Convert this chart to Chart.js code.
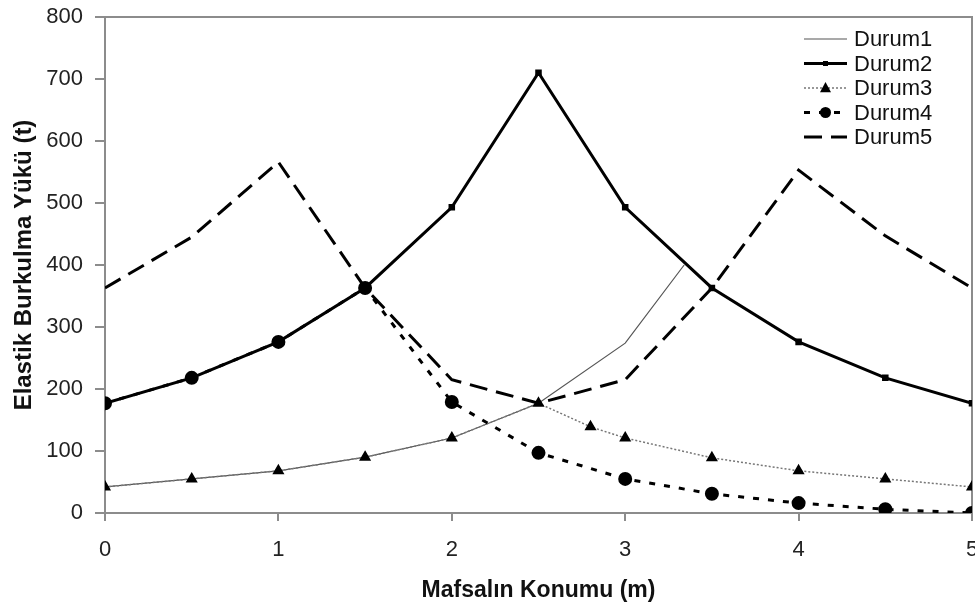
<!DOCTYPE html>
<html>
<head>
<meta charset="utf-8">
<script src="https://cdn.jsdelivr.net/npm/chart.js@4/dist/chart.umd.min.js"></script>
<style>
  html, body { margin: 0; padding: 0; background: #fff; }
</style>
</head>
<body>
<canvas id="grafico" width="975" height="607"></canvas>
<script>
// degerler
var xDurum1 = [0, 0.5, 1, 1.5, 2, 2.5, 3, 3.34];
var yDurum1 = [42, 55, 68, 90, 121, 177, 274, 400];

var xDurum2 = [0, 0.5, 1, 1.5, 2, 2.5, 3, 3.5, 4, 4.5, 5];
var yDurum2 = [177, 218, 276, 363, 493, 710, 493, 363, 276, 218, 177];

var xDurum3 = [0, 0.5, 1, 1.5, 2, 2.5, 2.8, 3, 3.5, 4, 4.5, 5];
var yDurum3 = [42, 55, 68, 90, 121, 177, 139, 121, 89, 68, 55, 42];

var xDurum4 = [0, 0.5, 1, 1.5, 2, 2.5, 3, 3.5, 4, 4.5, 5];
var yDurum4 = [177, 218, 276, 363, 179, 97, 55, 31, 16, 6, 0];

var xDurum5 = [0, 0.5, 1, 1.5, 2, 2.5, 3, 3.5, 4, 4.5, 5];
var yDurum5 = [363, 445, 566, 363, 215, 177, 215, 363, 553, 447, 363];

var xTicks = [0, 1, 2, 3, 4, 5];
var yTicks = [0, 100, 200, 300, 400, 500, 600, 700, 800];

var fonte = "'Liberation Sans', Arial, sans-serif";

function pares(xs, ys) {
  return xs.map(function (x, i) { return { x: x, y: ys[i] }; });
}

function marcador(ctx, estilo, r, x, y) {
  ctx.beginPath();
  if (estilo === "circle") {
    ctx.arc(x, y, r, 0, Math.PI * 2);
  } else if (estilo === "triangle") {
    ctx.moveTo(x, y - r * 1.1);
    ctx.lineTo(x + r, y + r * 0.75);
    ctx.lineTo(x - r, y + r * 0.75);
    ctx.closePath();
  } else {
    ctx.rect(x - r, y - r, r * 2, r * 2);
  }
  ctx.fillStyle = "#000";
  ctx.fill();
}

// cerceve + legenda
var cerceve = {
  id: "cerceve",
  beforeDatasetsDraw: function (chart) {
    var a = chart.chartArea, ctx = chart.ctx;
    ctx.save();
    ctx.strokeStyle = "#8c8c8c";
    ctx.lineWidth = 2;
    ctx.strokeRect(a.left, a.top, a.right - a.left, a.bottom - a.top);
    ctx.restore();
  },
  afterDraw: function (chart) {
    var a = chart.chartArea, ctx = chart.ctx;
    ctx.save();
    chart.data.datasets.forEach(function (ds, i) {
      var y = a.top + 22 + i * 24.5;
      var x0 = a.right - 168, x1 = a.right - 125;
      ctx.beginPath();
      ctx.setLineDash(ds.borderDash || []);
      ctx.lineWidth = ds.borderWidth;
      ctx.strokeStyle = ds.borderColor;
      ctx.moveTo(x0, y);
      ctx.lineTo(x1, y);
      ctx.stroke();
      ctx.setLineDash([]);
      if (ds.pointRadius > 0) marcador(ctx, ds.pointStyle, ds.pointRadius, (x0 + x1) / 2, y);
      ctx.fillStyle = "#111";
      ctx.font = "22px " + fonte;
      ctx.textBaseline = "middle";
      ctx.textAlign = "left";
      ctx.fillText(ds.label, a.right - 118, y + 1);
    });
    ctx.restore();
  }
};

new Chart(document.getElementById("grafico").getContext("2d"), {
  type: "line",
  data: {
    datasets: [
      {
        label: "Durum1",
        data: pares(xDurum1, yDurum1),
        borderColor: "#555",
        borderWidth: 1.2,
        pointRadius: 0,
        order: 5
      },
      {
        label: "Durum2",
        data: pares(xDurum2, yDurum2),
        borderColor: "#000",
        borderWidth: 3,
        pointStyle: "rect",
        pointRadius: 2.5,
        pointBackgroundColor: "#000",
        pointBorderColor: "#000",
        order: 1
      },
      {
        label: "Durum3",
        data: pares(xDurum3, yDurum3),
        borderColor: "#777",
        borderWidth: 1.5,
        borderDash: [2, 2],
        pointStyle: "triangle",
        pointRadius: 5.5,
        pointBackgroundColor: "#000",
        pointBorderColor: "#000",
        order: 4
      },
      {
        label: "Durum4",
        data: pares(xDurum4, yDurum4),
        borderColor: "#000",
        borderWidth: 3,
        borderDash: [6, 9],
        pointStyle: "circle",
        pointRadius: 5.5,
        pointBackgroundColor: "#000",
        pointBorderColor: "#000",
        order: 2
      },
      {
        label: "Durum5",
        data: pares(xDurum5, yDurum5),
        borderColor: "#000",
        borderWidth: 3,
        borderDash: [18, 9],
        pointRadius: 0,
        order: 3
      }
    ]
  },
  plugins: [cerceve],
  options: {
    responsive: false,
    animation: false,
    devicePixelRatio: 1,
    layout: { autoPadding: false, padding: { top: 17, right: 3, left: 0, bottom: 0 } },
    elements: { line: { tension: 0 }, point: { hoverRadius: 0 } },
    plugins: {
      legend: { display: false },
      tooltip: { enabled: false }
    },
    scales: {
      x: {
        type: "linear",
        min: 0,
        max: 5,
        afterBuildTicks: function (s) { s.ticks = xTicks.map(function (v) { return { value: v }; }); },
        afterFit: function (s) { s.height = 94; s.paddingLeft = 0; s.paddingRight = 0; },
        grid: { drawOnChartArea: false, drawTicks: true, tickLength: 8, color: "#8c8c8c", lineWidth: 2 },
        border: { color: "#8c8c8c", width: 2 },
        ticks: { color: "#222", font: { family: fonte, size: 22 }, padding: 16, maxRotation: 0 },
        title: {
          display: true,
          text: "Mafsalın Konumu (m)",
          color: "#111",
          font: { family: fonte, size: 23, weight: "bold", lineHeight: 1.2 },
          padding: { top: 0, bottom: 3 }
        }
      },
      y: {
        min: 0,
        max: 800,
        afterBuildTicks: function (s) { s.ticks = yTicks.map(function (v) { return { value: v }; }); },
        afterFit: function (s) { s.width = 105; s.paddingTop = 0; s.paddingBottom = 0; },
        grid: { drawOnChartArea: false, drawTicks: true, tickLength: 10, color: "#8c8c8c", lineWidth: 2 },
        border: { color: "#8c8c8c", width: 2 },
        ticks: { color: "#222", font: { family: fonte, size: 22 }, padding: 12 },
        title: {
          display: true,
          text: "Elastik Burkulma Yükü (t)",
          color: "#111",
          font: { family: fonte, size: 24, weight: "bold", lineHeight: 1.2 },
          padding: { top: 10, bottom: 0 }
        }
      }
    }
  }
});
</script>
</body>
</html>
